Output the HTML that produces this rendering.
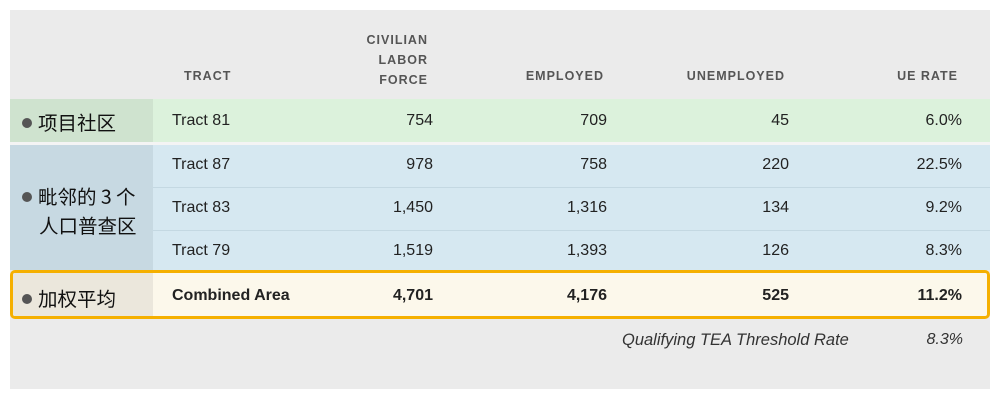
<!DOCTYPE html>
<html><head><meta charset="utf-8"><style>
body{margin:0;width:1000px;height:400px;background:#fff;position:relative;font-family:"Liberation Sans","Noto Sans CJK SC",sans-serif;overflow:hidden}
.a{position:absolute}
.h{font-size:12.5px;letter-spacing:1px;font-weight:bold;color:#555;text-align:right;line-height:20px}
.c{font-size:16px;color:#222;line-height:20px}
.r{text-align:right}
.lab{font-size:19.5px;color:#111;font-family:"Noto Sans CJK SC","WenQuanYi Zen Hei",sans-serif}
.dot{display:inline-block;width:10px;height:10px;border-radius:50%;background:#555;margin-right:6px;vertical-align:2px}
</style></head><body>
<div class="a" style="left:10px;top:10px;width:980px;height:379px;background:#ebebeb"></div>
<div class="a" style="left:10px;top:10px;width:980px;height:89px">
 <div class="a h" style="left:174px;top:56px;text-align:left">TRACT</div>
 <div class="a h" style="left:320px;top:20px;width:98px">CIVILIAN<br>LABOR<br>FORCE</div>
 <div class="a h" style="left:480px;top:56px;width:114px">EMPLOYED</div>
 <div class="a h" style="left:640px;top:56px;width:135px">UNEMPLOYED</div>
 <div class="a h" style="left:840px;top:56px;width:108px">UE RATE</div>
</div>
<div class="a" style="left:10px;top:99px;width:143px;height:43px;background:#cfe3cf"></div>
<div class="a" style="left:153px;top:99px;width:837px;height:43px;background:#dcf2dc"></div>
<div class="a" style="left:10px;top:142px;width:980px;height:3px;background:#f4f4f4"></div>
<div class="a" style="left:10px;top:145px;width:143px;height:125px;background:#c7d9e2"></div>
<div class="a" style="left:153px;top:145px;width:837px;height:125px;background:#d6e8f1"></div>
<div class="a" style="left:153px;top:187px;width:837px;height:1px;background:#c4d8e2"></div>
<div class="a" style="left:153px;top:230px;width:837px;height:1px;background:#c4d8e2"></div>
<div class="a" style="left:10px;top:270px;width:974px;height:43px;border:3px solid #f5b000;border-radius:5px;background:#fcf8eb;overflow:hidden">
 <div class="a" style="left:0;top:0;width:140px;height:43px;background:#ebe7dc"></div>
</div>
<div class="a lab" style="left:22px;top:107px"><span class="dot"></span>项目社区</div>
<div class="a lab" style="left:22px;top:181px;line-height:29px"><span class="dot"></span>毗邻的 3 个<br><span style="padding-left:17px">人口普查区</span></div>
<div class="a lab" style="left:22px;top:283px"><span class="dot"></span>加权平均</div>
<div id="rows"></div>
<div class="a c" style="left:622px;top:330px;font-style:italic;color:#333;font-size:16.5px">Qualifying TEA Threshold Rate</div>
<div class="a c r" style="left:880px;top:330px;width:83px;font-style:italic;color:#333">8.3%</div>
<script>
const tracts=["Tract 81","Tract 87","Tract 83","Tract 79","Combined Area"];
const laborForce=["754","978","1,450","1,519","4,701"];
const employed=["709","758","1,316","1,393","4,176"];
const unemployed=["45","220","134","126","525"];
const ueRate=["6.0%","22.5%","9.2%","8.3%","11.2%"];
const tops=[111,155,198,241,286];
const cont=document.getElementById('rows');
function cell(txt,left,w,top,right,bold,name){
 const d=document.createElement('div');
 d.className='a c'+(right?' r':'');
 d.style.left=left+'px';d.style.top=top+'px';if(w)d.style.width=w+'px';
 if(bold)d.style.fontWeight='bold';
 d.textContent=txt;
 
 
 cont.appendChild(d);
}
tracts.forEach((t,i)=>{
 const b=i===4;
 cell(t,172,0,tops[i],false,b,'tract-name');
 cell(laborForce[i],333,100,tops[i],true,b,'labor-force-value');
 cell(employed[i],507,100,tops[i],true,b,'employed-value');
 cell(unemployed[i],689,100,tops[i],true,b,'unemployed-value');
 cell(ueRate[i],862,100,tops[i],true,b,'ue-rate-value');
});
</script>
</body></html>
